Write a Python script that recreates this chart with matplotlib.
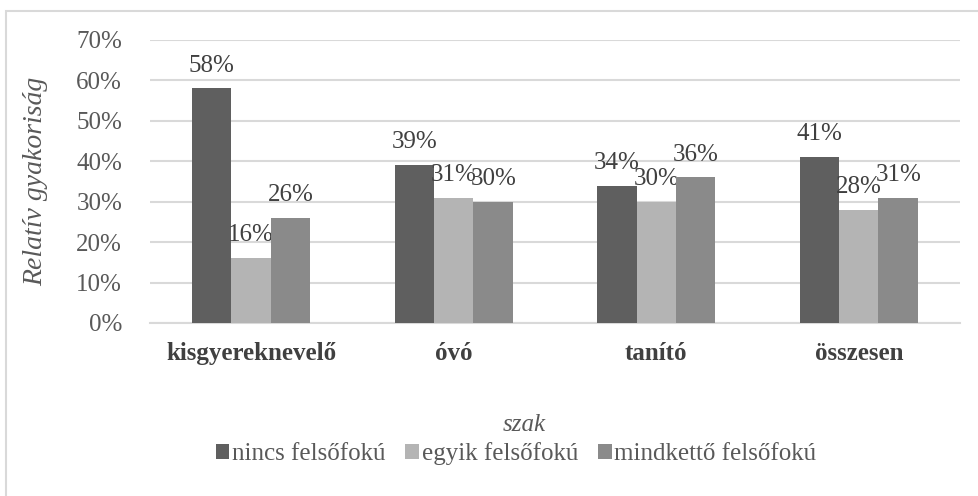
import numpy as np
import matplotlib
matplotlib.use('Agg')
import matplotlib.pyplot as plt
from matplotlib.patches import Rectangle

plt.rcParams['font.family'] = ['Liberation Serif', 'DejaVu Serif']

# adatok
szakok = ['kisgyereknevelő', 'óvó', 'tanító', 'összesen']
sorozatok = ['nincs felsőfokú', 'egyik felsőfokú', 'mindkettő felsőfokú']
nincs = [0.58, 0.39, 0.34, 0.41]
egyik = [0.16, 0.31, 0.30, 0.28]
mindketto = [0.26, 0.30, 0.36, 0.31]
szinek = ['#5f5f5f', '#b4b4b4', '#8a8a8a']

fig = plt.figure(figsize=(9.79, 4.96), dpi=100)
ax = fig.add_axes([0.1532, 0.3488, 0.8274, 0.5706])

x = np.arange(len(szakok))
w = 0.195
for i, (ertekek, nev) in enumerate(zip([nincs, egyik, mindketto], sorozatok)):
    pos = x + (i - 1) * w
    bars = ax.bar(pos, ertekek, width=w, color=szinek[i], label=nev, zorder=3)
    for b, v in zip(bars, ertekek):
        ax.annotate(f'{v * 100:.0f}%', (b.get_x() + b.get_width() / 2, v),
                    xytext=(0, 16.5), textcoords='offset points',
                    ha='center', va='center', fontsize=18, color='#404040')

ax.set_xlim(-0.5, len(szakok) - 0.5)
ax.set_ylim(0, 0.7)
ax.set_yticks(np.arange(0, 0.71, 0.1))
ax.set_yticklabels([f'{t * 100:.0f}%' for t in np.arange(0, 0.71, 0.1)])
ax.yaxis.grid(True, color='#d9d9d9', linewidth=1.5, zorder=0)
ax.set_axisbelow(True)
for s in ['top', 'right', 'left']:
    ax.spines[s].set_visible(False)
ax.spines['bottom'].set_color('#d9d9d9')
ax.spines['bottom'].set_linewidth(1.5)

ax.set_xticks(x)
ax.set_xticklabels(szakok, fontweight='bold')
ax.tick_params(axis='x', length=0, pad=14, labelsize=18, labelcolor='#404040')
ax.tick_params(axis='y', length=0, pad=20, labelsize=18, labelcolor='#595959')

fig.text(0.536, 0.143, 'szak', ha='center', va='center', fontsize=18,
         style='italic', color='#595959')
fig.text(0.036, 0.635, 'Relatív gyakoriság', ha='center', va='center', fontsize=20,
         style='italic', color='#595959', rotation=90)

fig.legend(loc='center', bbox_to_anchor=(0.527, 0.085), ncol=3, frameon=False,
           fontsize=18, handlelength=0.55, handleheight=0.55, handletextpad=0.1,
           columnspacing=0.8, labelcolor='#595959')

# keret
fig.add_artist(Rectangle((6 / 979, -0.1), 1.2, 1 - 11 / 496 + 0.1,
                         transform=fig.transFigure, fill=False,
                         edgecolor='#d9d9d9', linewidth=1.5, clip_on=False))

fig.savefig('out.png', dpi=100)
